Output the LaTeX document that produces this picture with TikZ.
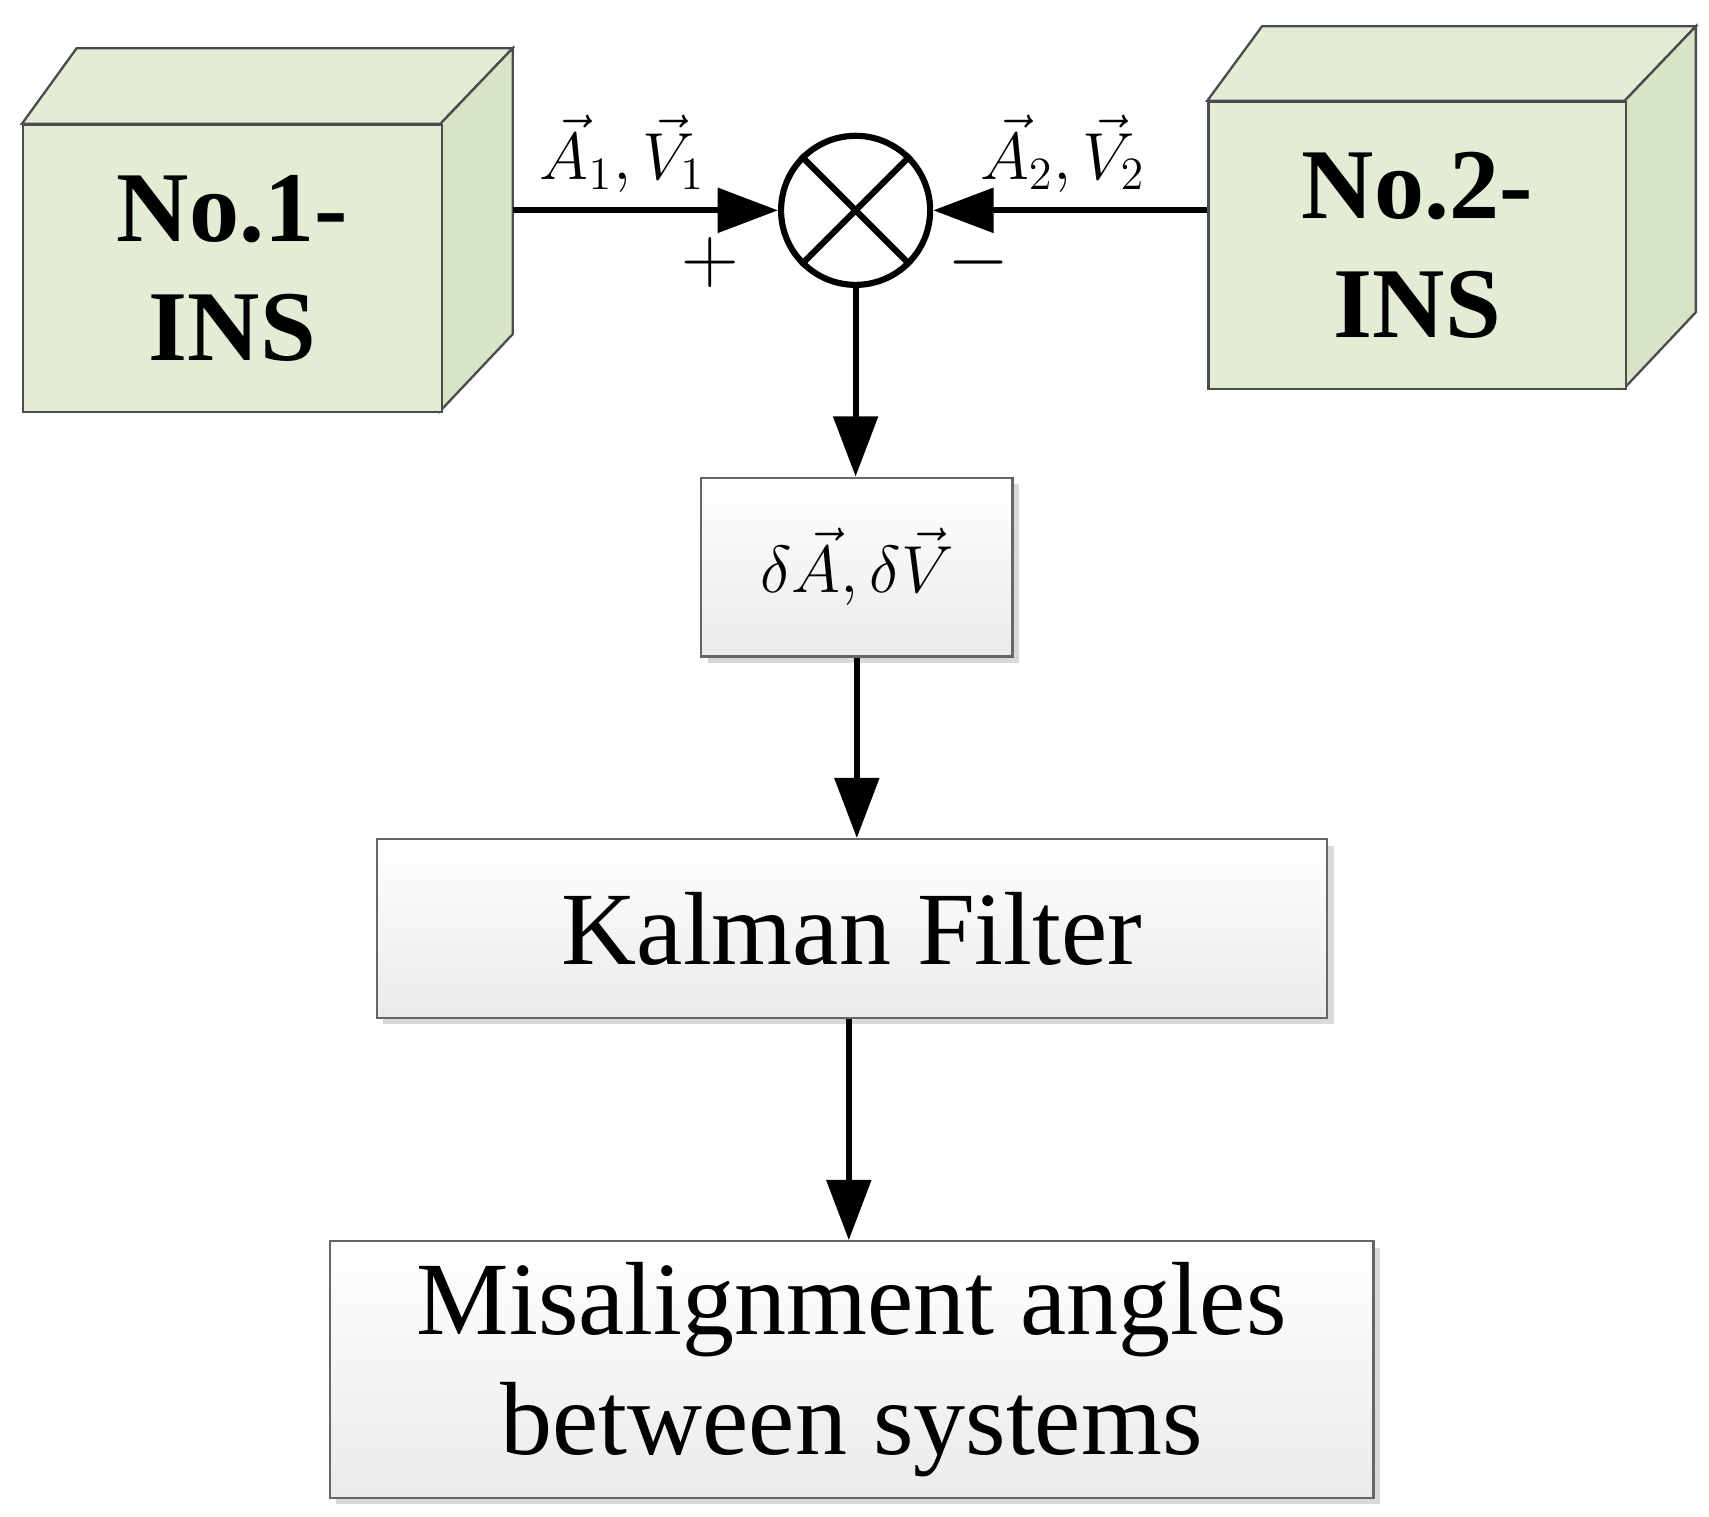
\documentclass[tikz,border=0pt]{standalone}
\usepackage{fontspec}
\setmainfont{Liberation Serif}
\usetikzlibrary{arrows.meta,shadows}
\begin{document}
\begin{tikzpicture}[x=0.01cm,y=-0.01cm,
  ln/.style={line width=1.6pt},
  arr/.style={ln,-{Triangle[length=0.55cm,width=0.4cm]}},
  face/.style={fill=cubefill,draw=black!70,line width=0.6pt},
  gbox/.style={draw=black!60,line width=0.6pt,top color=white,bottom color=black!8,
    drop shadow={shadow xshift=0.06cm,shadow yshift=-0.06cm,fill=black!25,opacity=0.6},
    inner sep=0pt,anchor=north west},
  big/.style={font=\fontsize{27}{31}\selectfont}]
\definecolor{cubefill}{HTML}{E3EDD6}
\definecolor{cubeside}{HTML}{D8E4C8}
\useasboundingbox (0,0) rectangle (1560,1384);
% cube 1
\draw[face] (20,113) -- (70,44) -- (468,44) -- (402,113) -- cycle;
\draw[face,fill=cubeside] (402,113) -- (468,44) -- (468,305) -- (402,375) -- cycle;
\node[face,minimum width=3.82cm,minimum height=2.62cm,anchor=north west,inner sep=0pt,
  font=\bfseries\fontsize{26}{31}\selectfont,align=center] (n1) at (20,113) {No.1-\\INS};
% cube 2
\draw[face] (1102,92) -- (1152,24) -- (1548,24) -- (1483,92) -- cycle;
\draw[face,fill=cubeside] (1483,92) -- (1548,24) -- (1548,285) -- (1483,354) -- cycle;
\node[face,minimum width=3.81cm,minimum height=2.62cm,anchor=north west,inner sep=0pt,
  font=\bfseries\fontsize{26}{31}\selectfont,align=center] (n2) at (1102,92) {No.2-\\INS};
% summing junction
\node[circle,draw,line width=1.6pt,minimum size=1.36cm,inner sep=0pt] (s) at (781,192) {};
\draw[ln] (s.45) -- (s.225) (s.135) -- (s.315);
\coordinate (r1) at (468,192);
\coordinate (r2) at (1102,192);
\draw[arr] (r1) -- (s.west);
\draw[arr] (r2) -- (s.east);
\node[font=\fontsize{17}{20}\selectfont] (l1) at (568,140) {$\vec{A}_1,\vec{V}_1$};
\node[font=\fontsize{17}{20}\selectfont] (l2) at (970,140) {$\vec{A}_2,\vec{V}_2$};
\node[font=\fontsize{20}{20}\selectfont] (pl) at (648,240) {$+$};
\node[font=\fontsize{20}{20}\selectfont] (mi) at (893,240) {$-$};
% boxes
\node[gbox,minimum width=2.84cm,minimum height=1.63cm,font=\fontsize{19}{24}\selectfont] (d) at (639,435) {$\delta\vec{A},\delta\vec{V}$};
\node[gbox,minimum width=8.67cm,minimum height=1.63cm,big] (k) at (343,765) {Kalman Filter};
\node[gbox,minimum width=9.52cm,minimum height=2.34cm,big,align=center] (m) at (300,1132) {Misalignment angles\\between systems};
\draw[arr] (s.south) -- (s.south |- d.north);
\draw[arr] (d.south) -- (d.south |- k.north);
\draw[arr] ([xshift=-0.03cm]k.south) -- ([xshift=-0.03cm]k.south |- m.north);
\end{tikzpicture}
\end{document}
